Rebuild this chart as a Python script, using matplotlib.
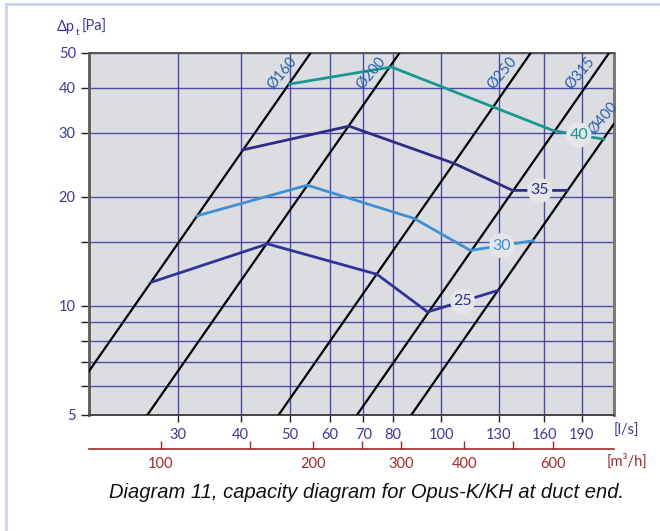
import numpy as np
import matplotlib.pyplot as plt
from matplotlib.ticker import FixedLocator, FixedFormatter, NullLocator
from matplotlib.lines import Line2D

plt.rcParams['font.family'] = ['Lato', 'DejaVu Sans']

# axis ticks
p_ticks = [5, 6, 7, 8, 9, 10, 15, 20, 30, 40, 50]
p_labels = ['5', '', '', '', '', '10', '', '20', '30', '40', '50']
q_ticks = [30, 40, 50, 60, 70, 80, 100, 130, 160, 190]
m3h_ticks = [100, 150, 200, 250, 300, 400, 500, 600]
m3h_labels = ['100', '', '200', '', '300', '400', '', '600']

# duct end lines, flow [l/s] at 50 Pa (pressure goes with flow squared)
duct_names = ['Ø160', 'Ø200', 'Ø250', 'Ø315', 'Ø400']
duct_q50 = [55.1, 82.7, 150.6, 215.4, 276.0]
duct_label_p = [44, 44, 44, 44, 33]

# sound level curves, flow [l/s] and total pressure [Pa]
level_25_q = [26.6, 45.2, 74.5, 93.9, 129.3]
level_25_p = [11.6, 14.8, 12.2, 9.6, 11.0]
level_30_q = [32.8, 54.2, 88.3, 114.1, 152.2]
level_30_p = [17.7, 21.5, 17.4, 14.2, 15.1]
level_35_q = [40.3, 65.6, 105.9, 138.4, 177.5]
level_35_p = [26.9, 31.3, 24.7, 20.8, 20.8]
level_40_q = [50.0, 79.6, 167.0, 210.2]
level_40_p = [40.9, 45.6, 30.4, 28.8]

levels = [
    ('25', level_25_q, level_25_p, '#30349a'),
    ('30', level_30_q, level_30_p, '#3f8fd4'),
    ('35', level_35_q, level_35_p, '#2d2d88'),
    ('40', level_40_q, level_40_p, '#17998f'),
]

navy = '#3a3a9c'
grid_col = '#3434a0'
red = '#a3282a'
W, H = 660, 531

fig = plt.figure(figsize=(6.6, 5.31), dpi=100)
ax = fig.add_axes([89 / W, (H - 414.5) / H, 525 / W, 362 / H])
ax.set_facecolor('#dcdde0')
ax.set_xscale('log')
ax.set_yscale('log')
ax.set_xlim(20, 220)
ax.set_ylim(5, 50)

ax.yaxis.set_major_locator(FixedLocator(p_ticks))
ax.yaxis.set_major_formatter(FixedFormatter(p_labels))
ax.yaxis.set_minor_locator(NullLocator())
ax.xaxis.set_major_locator(FixedLocator(q_ticks))
ax.xaxis.set_major_formatter(FixedFormatter([str(v) for v in q_ticks]))
ax.xaxis.set_minor_locator(NullLocator())
ax.tick_params(axis='y', length=6, width=1, color='#222222', labelcolor=navy,
               labelsize=10.5, pad=3.5)
ax.tick_params(axis='x', length=5, width=1, color='#222222', labelcolor=navy,
               labelsize=10.5, pad=5)
ax.grid(True, color=grid_col, lw=1.0, alpha=0.85, zorder=1)
ax.set_axisbelow(True)

for side, c, w in [('left', '#5a5a5a', 2.0), ('top', '#555555', 1.4),
                   ('right', '#7a7a7a', 2.2), ('bottom', '#444444', 1.4)]:
    ax.spines[side].set_color(c)
    ax.spines[side].set_linewidth(w)

# duct end lines
q = np.logspace(1, 2.7, 200)
for name, q50, lp in zip(duct_names, duct_q50, duct_label_p):
    ax.plot(q, 50 * (q / q50) ** 2, color='black', lw=1.6, zorder=3)
    ql = q50 * np.sqrt(lp / 50)
    ax.annotate(name, (ql, lp), xytext=(-11, 0), textcoords='offset points',
                ha='center', va='center', rotation=50, fontsize=10.5,
                color='#2461b4', zorder=5, annotation_clip=False)

# sound level curves with circled labels
for label, lq, lpv, col in levels:
    ax.plot(lq, lpv, color=col, lw=2.0, zorder=4, solid_joinstyle='miter')
    xm = np.sqrt(lq[-2] * lq[-1])
    ym = np.sqrt(lpv[-2] * lpv[-1])
    ax.text(xm, ym, label, ha='center', va='center', fontsize=11.5, color=col,
            zorder=6, bbox=dict(boxstyle='circle,pad=0.2', fc='#e6e6e8', ec='none'))

# second flow scale in m3/h
ax2 = ax.secondary_xaxis(-(449 - 414.5) / 362,
                         functions=(lambda v: v * 3.6, lambda v: v / 3.6))
ax2.xaxis.set_major_locator(FixedLocator(m3h_ticks))
ax2.xaxis.set_major_formatter(FixedFormatter(m3h_labels))
ax2.xaxis.set_minor_locator(NullLocator())
ax2.tick_params(axis='x', direction='in', length=6, width=1, color=red,
                labelcolor=red, labelsize=10.5, pad=6)
ax2.spines['bottom'].set_color(red)
ax2.spines['bottom'].set_linewidth(1.2)

# unit labels
fig.text(614 / W, 1 - 431 / H, '[l/s]', color=navy, fontsize=10.5,
         ha='left', va='center')
fig.text(607 / W, 1 - 461 / H, '[m³/h]', color=red, fontsize=10.5,
         ha='left', va='center')
t1 = fig.text(57 / W, 1 - 27 / H, 'Δp', color=navy, fontsize=10.5,
              ha='left', va='center')
t2 = fig.text(0, 0, 't', color=navy, fontsize=7, ha='left', va='top')
fig.canvas.draw()
bb = t1.get_window_extent()
t2.set_position(((bb.x1 + 0.5) / W, (bb.y0 + 6) / H))
bb2 = t2.get_window_extent()
fig.text((bb2.x1 + 3) / W, 1 - 27 / H, '[Pa]', color=navy, fontsize=10.5,
         ha='left', va='center')

fig.text(367 / W, 1 - 492 / H,
         'Diagram 11, capacity diagram for Opus-K/KH at duct end.',
         ha='center', va='center', fontsize=14.5, style='italic',
         family=['Liberation Sans', 'DejaVu Sans'], color='#111111')

# panel border
border = '#cdd4e8'
fig.add_artist(Line2D([6 / W, 1], [1 - 3.5 / H, 1 - 3.5 / H],
                      transform=fig.transFigure, color=border, lw=2))
fig.add_artist(Line2D([6 / W, 6 / W], [0, 1 - 3.5 / H],
                      transform=fig.transFigure, color=border, lw=2))

fig.savefig('out.png', dpi=100)
